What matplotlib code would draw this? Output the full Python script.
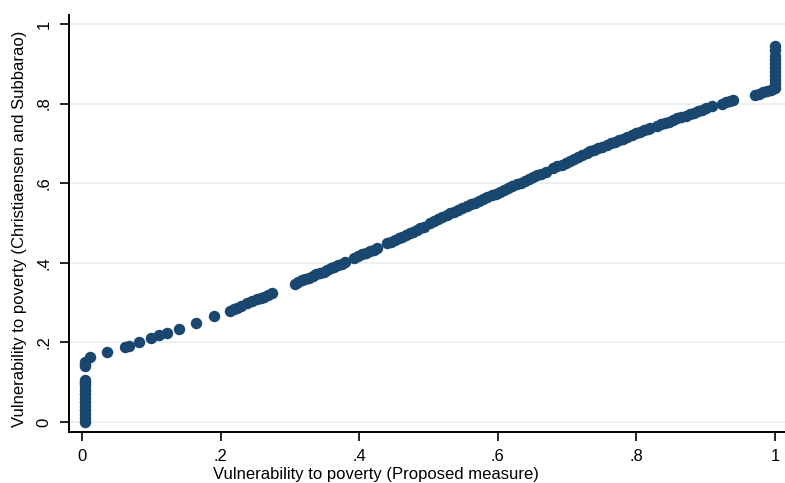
import numpy as np
import matplotlib.pyplot as plt

plt.rcParams['font.family'] = ['Liberation Sans', 'DejaVu Sans']

# =========================
# Data
# =========================
# vertical cluster near x = 0
low_x = [0.005] * 16 + [0.011]
low_y = [0.000, 0.010, 0.020, 0.030, 0.040, 0.050, 0.060, 0.070, 0.080,
         0.090, 0.095, 0.100, 0.105, 0.140, 0.145, 0.150, 0.163]

# main curve
mid_x = [0.036, 0.062, 0.068, 0.082, 0.100, 0.111, 0.123, 0.140, 0.164, 0.190,
         0.214, 0.219, 0.223, 0.230, 0.238, 0.245, 0.252, 0.258, 0.262, 0.268, 0.274,
         0.307, 0.312, 0.318, 0.322, 0.328, 0.333, 0.338, 0.343, 0.349, 0.354,
         0.359, 0.364, 0.370, 0.375, 0.380,
         0.392, 0.398, 0.404, 0.410, 0.416, 0.421, 0.425,
         0.440, 0.446, 0.452, 0.457, 0.462, 0.468, 0.473, 0.478, 0.483, 0.488, 0.493,
         0.502, 0.508, 0.514, 0.520, 0.526,
         0.531, 0.537, 0.543, 0.549, 0.555, 0.561, 0.567, 0.573, 0.579, 0.585,
         0.591, 0.597, 0.603, 0.609, 0.615, 0.621, 0.627, 0.633, 0.639, 0.645,
         0.651, 0.657, 0.663, 0.670,
         0.680, 0.686, 0.692, 0.698, 0.704, 0.710, 0.716, 0.722, 0.728,
         0.733, 0.739, 0.745, 0.751, 0.757, 0.763, 0.769, 0.775, 0.781, 0.787,
         0.793, 0.799, 0.805, 0.811, 0.817, 0.820,
         0.829, 0.835, 0.841, 0.847, 0.853, 0.859, 0.865, 0.871, 0.877, 0.883,
         0.889, 0.895, 0.901, 0.909,
         0.923, 0.929, 0.935, 0.940,
         0.971, 0.977, 0.983, 0.989, 0.994, 0.998]
mid_y = [0.176, 0.189, 0.192, 0.200, 0.212, 0.219, 0.224, 0.233, 0.250, 0.266,
         0.280, 0.284, 0.287, 0.291, 0.298, 0.303, 0.308, 0.312, 0.315, 0.319, 0.323,
         0.348, 0.351, 0.356, 0.359, 0.363, 0.367, 0.371, 0.374, 0.378, 0.382,
         0.386, 0.389, 0.394, 0.398, 0.403,
         0.413, 0.417, 0.421, 0.425, 0.430, 0.433, 0.436,
         0.449, 0.453, 0.458, 0.462, 0.466, 0.470, 0.474, 0.478, 0.482, 0.487, 0.491,
         0.499, 0.504, 0.509, 0.514, 0.520,
         0.524, 0.528, 0.533, 0.537, 0.542, 0.547, 0.551, 0.556, 0.560, 0.565,
         0.570, 0.574, 0.579, 0.583, 0.588, 0.592, 0.597, 0.601, 0.606, 0.611,
         0.615, 0.620, 0.624, 0.629,
         0.637, 0.642, 0.646, 0.651, 0.656, 0.661, 0.665, 0.670, 0.675,
         0.680, 0.684, 0.688, 0.692, 0.696, 0.700, 0.704, 0.708, 0.712, 0.716,
         0.721, 0.725, 0.729, 0.733, 0.737, 0.739,
         0.744, 0.748, 0.752, 0.755, 0.759, 0.763, 0.766, 0.770, 0.774, 0.777,
         0.781, 0.785, 0.788, 0.793,
         0.800, 0.803, 0.806, 0.809,
         0.822, 0.825, 0.828, 0.832, 0.835, 0.838]

# vertical cluster at x = 1
high_x = [1.0] * 11
high_y = [0.840, 0.850, 0.860, 0.870, 0.880, 0.890, 0.900, 0.910, 0.920, 0.935, 0.945]

x = np.array(low_x + mid_x + high_x)
y = np.array(low_y + mid_y + high_y)

xticks = [0, 0.2, 0.4, 0.6, 0.8, 1.0]
xticklabels = ["0", ".2", ".4", ".6", ".8", "1"]
yticks = [0, 0.2, 0.4, 0.6, 0.8, 1.0]
yticklabels = ["0", ".2", ".4", ".6", ".8", "1"]

# =========================
# Plot
# =========================
fig = plt.figure(figsize=(7.85, 4.83), dpi=100)
ax = fig.add_axes([69 / 785, 1 - 432 / 483, 1 - 69 / 785, (432 - 15) / 483])

ax.scatter(x, y, s=68, color="#1a476f", linewidths=0, zorder=3)

ax.set_xlim(-0.0188, 1.0144)
ax.set_ylim(-0.025, 1.0226)
ax.set_xticks(xticks)
ax.set_xticklabels(xticklabels)
ax.set_yticks(yticks)
ax.set_yticklabels(yticklabels, rotation=90, va="center")

ax.grid(axis="y", color="#eaf2f3", linewidth=1.5, zorder=0)
ax.set_axisbelow(True)

for side in ["top", "right"]:
    ax.spines[side].set_visible(False)
for side in ["left", "bottom"]:
    ax.spines[side].set_linewidth(1.4)
ax.tick_params(axis="both", length=6.5, width=1.2, labelsize=12, pad=6)

fig.text(376 / 785, 1 - 475 / 483, "Vulnerability to poverty (Proposed measure)",
         ha="center", va="center", fontsize=12)
fig.text(20 / 785, 1 - 229 / 483, "Vulnerability to poverty (Christiaensen and Subbarao)",
         ha="center", va="center", rotation=90, fontsize=12)

fig.savefig("out.png", dpi=100)
